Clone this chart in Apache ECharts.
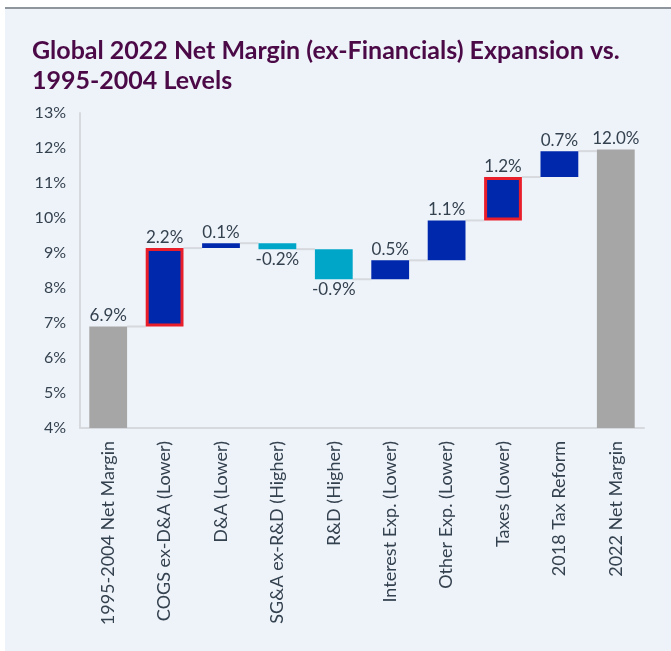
<!DOCTYPE html>
<html>
<head>
<meta charset="utf-8">
<script src="https://cdn.jsdelivr.net/npm/echarts@6/dist/echarts.min.js"></script>
<style>
  body { margin: 0; background: #ffffff; }
  #card { position: absolute; left: 5px; top: 7px; width: 666px; height: 644px; background: #eef3f9; border-top: 2px solid #8e959d; }
  #chart { position: absolute; left: 0; top: 0; width: 671px; height: 651px; }
</style>
</head>
<body>
<div id="card"></div>
<div id="chart"></div>
<script>
  // waterfall data, % net margin
  const categories = [
    '1995-2004 Net Margin', 'COGS ex-D&A (Lower)', 'D&A (Lower)', 'SG&A ex-R&D (Higher)',
    'R&D (Higher)', 'Interest Exp. (Lower)', 'Other Exp. (Lower)', 'Taxes (Lower)',
    '2018 Tax Reform', '2022 Net Margin'
  ]
  const startValue = 6.9
  const changes = [2.24, 0.14, -0.17, -0.86, 0.54, 1.14, 1.24, 0.74]
  const endValue = 11.96
  const highlighted = [1, 7] // bars drawn with red outline
  const yTicks = [4, 5, 6, 7, 8, 9, 10, 11, 12, 13]

  const GRAY = '#a6a6a6'
  const BLUE = '#0028ad'
  const TEAL = '#00a6c7'
  const RED = '#e91e2b'
  const TEXT = '#34414f'

  // build stacked base + visible pieces
  let level = startValue
  const baseData = [0]
  const pieceData = [{ value: startValue, itemStyle: { color: GRAY }, label: { position: 'top' } }]
  const levels = [startValue]
  changes.forEach((d, i) => {
    const idx = i + 1
    const lo = Math.min(level, level + d)
    baseData.push(lo)
    const item = {
      value: Math.abs(d),
      raw: d,
      itemStyle: { color: d >= 0 ? BLUE : TEAL },
      label: { position: d >= 0 ? 'top' : 'bottom' }
    }
    if (highlighted.indexOf(idx) >= 0) {
      item.itemStyle.borderColor = RED
      item.itemStyle.borderWidth = 3
    }
    pieceData.push(item)
    level = level + d
    levels.push(level)
  })
  baseData.push(0)
  pieceData.push({ value: endValue, itemStyle: { color: GRAY }, label: { position: 'top' } })
  levels.push(endValue)

  const connectors = []
  for (let i = 0; i < categories.length - 1; i++) {
    connectors.push([i, levels[i]])
  }

  const chart = echarts.init(document.getElementById('chart'))
  chart.setOption({
    animation: false,
    textStyle: { fontFamily: 'Lato' },
    title: {
      text: 'Global 2022 Net Margin (ex-Financials) Expansion vs.\n1995-2004 Levels',
      left: 27,
      top: 31,
      textStyle: { color: '#4b0a47', fontSize: 25, fontWeight: 'bold', lineHeight: 30, fontFamily: 'Lato' }
    },
    grid: { left: 80, right: 27, top: 113, bottom: 223 },
    xAxis: {
      type: 'category',
      data: categories,
      axisLine: { lineStyle: { color: '#d6d9dd', width: 2 } },
      axisTick: { show: false },
      axisLabel: { rotate: 90, interval: 0, color: TEXT, fontSize: 18, margin: 13 }
    },
    yAxis: {
      type: 'value',
      min: 4,
      max: 13,
      interval: 1,
      axisLine: { show: true, lineStyle: { color: '#d6d9dd', width: 2 } },
      axisTick: { show: false },
      splitLine: { show: false },
      axisLabel: { color: TEXT, fontSize: 16, margin: 14, formatter: v => v + '%' }
    },
    series: [
      {
        type: 'custom',
        z: 1,
        data: connectors,
        renderItem: function (params, api) {
          const i = api.value(0)
          const p = api.coord([i, api.value(1)])
          const bw = api.size([1, 0])[0]
          const half = bw * 0.67 / 2
          return {
            type: 'line',
            shape: { x1: p[0] + half, y1: p[1], x2: p[0] + bw - half, y2: p[1] },
            style: { stroke: '#d6d9dd', lineWidth: 2 }
          }
        }
      },
      {
        type: 'bar',
        stack: 'wf',
        barWidth: '67%',
        itemStyle: { color: 'transparent' },
        data: baseData
      },
      {
        type: 'bar',
        stack: 'wf',
        barWidth: '67%',
        z: 3,
        data: pieceData,
        label: {
          show: true,
          color: TEXT,
          fontSize: 17,
          distance: 2,
          formatter: p => {
            const v = p.data.raw !== undefined ? p.data.raw : p.data.value
            return v.toFixed(1) + '%'
          }
        }
      }
    ]
  })
</script>
</body>
</html>
